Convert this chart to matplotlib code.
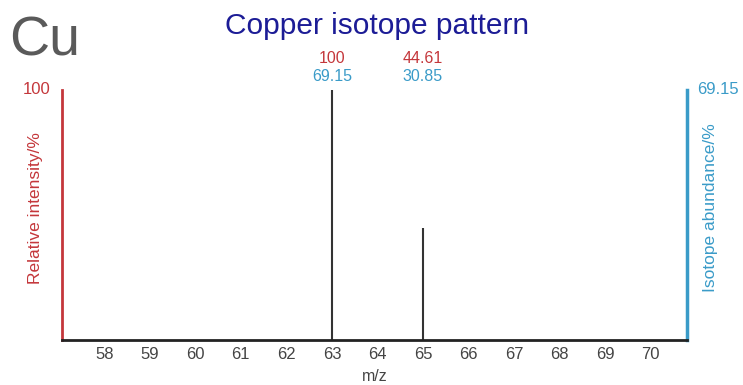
import matplotlib.pyplot as plt

plt.rcParams['font.family'] = ['Liberation Sans', 'DejaVu Sans']

# isotope data
masses = [63, 65]
rel_intensity = [100, 44.61]
abundance = [69.15, 30.85]
xticks = list(range(58, 71))

red = '#c4373b'
blue = '#3a9bc8'
gray = '#444444'

fig = plt.figure(figsize=(7.43, 3.85), dpi=100)
ax = fig.add_axes([0.0834, 0.1169, 0.8412, 0.6494])

ax.vlines(masses, 0, rel_intensity, color='#333333', linewidth=1.5)
ax.set_xlim(57.07, 70.80)
ax.set_ylim(0, 100)

for m, r, a in zip(masses, rel_intensity, abundance):
    ax.annotate(f'{r:g}', (m, 100), xytext=(0, 22.5), textcoords='offset points',
                ha='center', va='center', color=red, fontsize=11.5)
    ax.annotate(f'{a:.2f}', (m, 100), xytext=(0, 9.5), textcoords='offset points',
                ha='center', va='center', color=blue, fontsize=11.5)

ax.spines['top'].set_visible(False)
ax.spines['left'].set_color(red)
ax.spines['left'].set_linewidth(2)
ax.spines['right'].set_color(blue)
ax.spines['right'].set_linewidth(2.5)
ax.spines['bottom'].set_color('#222222')
ax.spines['bottom'].set_linewidth(2)

ax.set_xticks(xticks)
ax.tick_params(axis='x', length=0, pad=5, labelsize=12, labelcolor=gray)
ax.set_yticks([])
ax.set_xlabel('m/z', color=gray, fontsize=11.5, labelpad=5)

ax.text(-0.019, 1.0, '100', transform=ax.transAxes, ha='right', va='center',
        color=red, fontsize=12)
ax.text(1.016, 1.0, f'{abundance[0]:.2f}', transform=ax.transAxes, ha='left',
        va='center', color=blue, fontsize=12)
ax.text(-0.043, 0.528, 'Relative intensity/%', transform=ax.transAxes, rotation=90,
        ha='center', va='center', color=red, fontsize=12.5)
ax.text(1.038, 0.528, 'Isotope abundance/%', transform=ax.transAxes, rotation=90,
        ha='center', va='center', color=blue, fontsize=12.5)

fig.text(0.507, 0.932, 'Copper isotope pattern', ha='center', va='center',
         color='#1c1c96', fontsize=21.5)
fig.text(0.012, 0.893, 'Cu', ha='left', va='center', color='#5a5a5a', fontsize=40)

fig.savefig('out.png', dpi=100)
